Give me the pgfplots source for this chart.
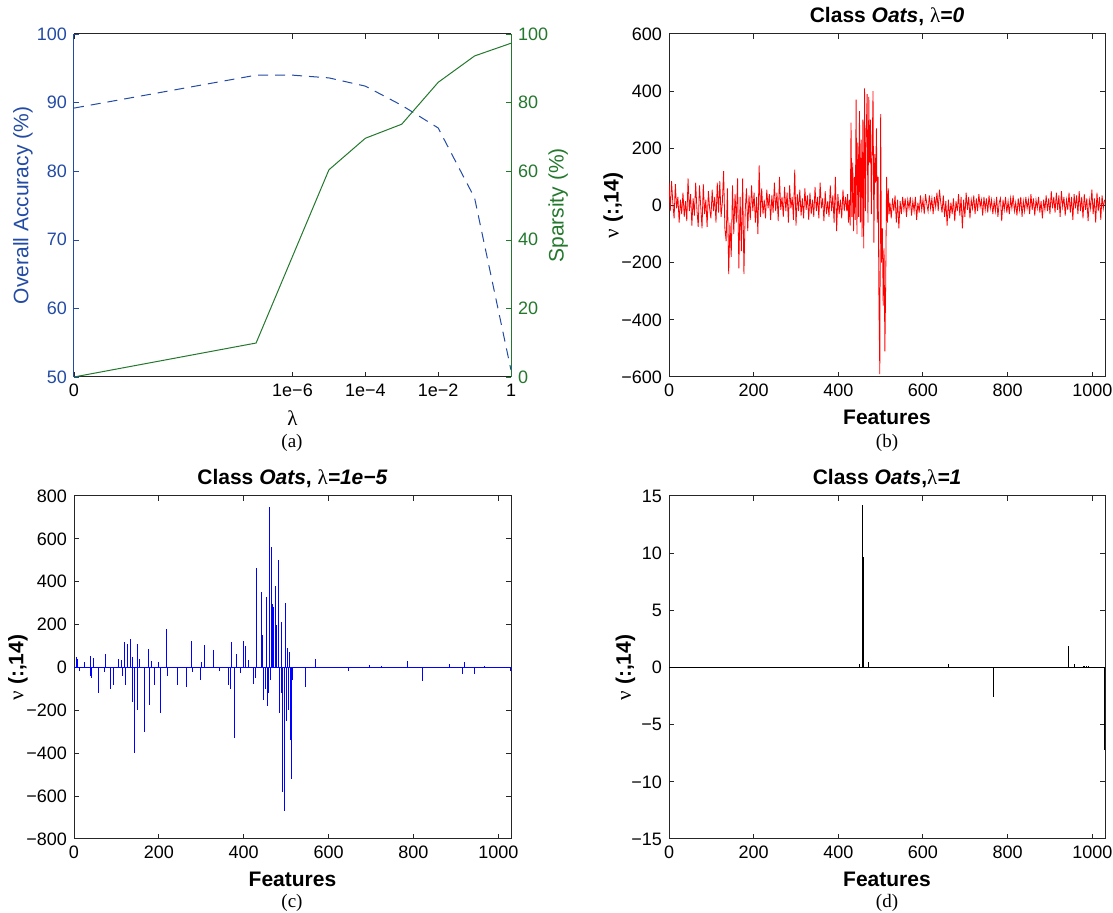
\documentclass[border=0pt]{standalone}
\usepackage{fontspec}
\setmainfont{Liberation Sans}
\newfontfamily\capfont{Liberation Serif}
\usepackage{pgfplots}
\pgfplotsset{compat=1.18}

\definecolor{accblue}{RGB}{35,75,165}
\definecolor{spgreen}{RGB}{35,120,45}

\pgfplotsset{
  matlab/.style={
    scale only axis, height=171.5pt,
    tick align=inside, major tick length=2.5pt,
    axis line style={line width=0.5pt, black!85},
    tick style={line width=0.5pt, black!85},
    tick label style={font=\fontsize{9}{10}\selectfont},
    label style={font=\bfseries\fontsize{10.5}{12}\selectfont},
    every axis title/.style={at={(0.5,1.05)}, anchor=center,
      font=\bfseries\fontsize{10.5}{12}\selectfont},
    every axis y label/.style={at={(axis description cs:-0.128,0.5)},
      rotate=90, anchor=center, font=\bfseries\fontsize{10.5}{12}\selectfont},
    xmin=0, xmax=1030, xtick={0,200,400,600,800,1000},
    xticklabels={0,200,400,600,800,1000},
    xlabel={Features},
    ylabel={{\mdseries\capfont ν} (:,14)},
  },
}

\begin{document}
\begin{tikzpicture}
\useasboundingbox (0,0) rectangle (556.5pt,456.5pt);

% (a) accuracy and sparsity against lambda
\begin{axis}[at={(37pt,268pt)}, anchor=south west,
    scale only axis, width=218.5pt, height=171.5pt,
    xmode=log, xmin=1e-12, xmax=1,
    xtick={1e-12,1e-6,1e-4,1e-2,1}, xticklabels={0,1e−6,1e−4,1e−2,1},
    minor xtick={},
    ymin=50, ymax=100, ytick={50,60,70,80,90,100},
    yticklabels={50,60,70,80,90,100},
    axis x line*=box, axis y line*=left,
    tick align=inside, major tick length=2.5pt,
    x axis line style={line width=0.5pt, black!85},
    y axis line style={line width=0.5pt, accblue},
    xtick style={black!85}, ytick style={accblue},
    tick label style={font=\fontsize{9}{10}\selectfont},
    yticklabel style={accblue},
    xlabel={\capfont λ}, ylabel={Overall Accuracy (\%)},
    label style={font=\fontsize{10.5}{12}\selectfont},
    every axis y label/.style={at={(axis description cs:-0.117,0.5)},
      rotate=90, anchor=center, accblue, font=\fontsize{10.5}{12}\selectfont}]
\addplot[accblue, line width=0.5pt, dash pattern=on 5pt off 3.5pt] coordinates {
  (1e-12,89.2) (1e-7,94.0) (1e-6,94.0) (1e-5,93.6) (1e-4,92.4)
  (1e-3,89.6) (1e-2,86.3) (1e-1,76.1) (1,51.0)
};
\end{axis}
\begin{axis}[at={(37pt,268pt)}, anchor=south west,
    scale only axis, width=218.5pt, height=171.5pt,
    xmode=log, xmin=1e-12, xmax=1,
    axis x line=none, axis y line*=right,
    ymin=0, ymax=100, ytick={0,20,40,60,80,100},
    yticklabels={0,20,40,60,80,100},
    tick align=inside, major tick length=2.5pt,
    y axis line style={line width=0.5pt, spgreen},
    ytick style={spgreen},
    yticklabel style={spgreen, font=\fontsize{9}{10}\selectfont},
    ylabel={Sparsity (\%)},
    every axis y label/.style={at={(axis description cs:1.108,0.5)},
      rotate=90, anchor=center, spgreen, font=\fontsize{10.5}{12}\selectfont}]
\addplot[spgreen, line width=0.5pt] coordinates {
  (1e-12,0) (1e-7,9.9) (1e-5,60.4) (1e-4,69.6) (1e-3,73.7)
  (1e-2,85.9) (1e-1,93.6) (1,97.3)
};
\end{axis}

% (b) lambda = 0
\begin{axis}[matlab, at={(334.5pt,268pt)}, anchor=south west, width=218pt,
    title={Class \textit{Oats}, {\mdseries\capfont λ}\textit{=0}},
    ymin=-600, ymax=600, ytick={-600,-400,-200,0,200,400,600},
    yticklabels={−600,−400,−200,0,200,400,600}]
\addplot[red, line width=0.4pt] coordinates {
(0,80)(3,-20)(6,85)(9,10)(12,-45)(15,75)(18,-10)(21,30)(24,-60)(27,20)(30,-30)(33,45)
(36,-40)(39,15)(42,-55)(45,95)(48,-20)(51,40)(54,-70)(57,25)(60,-35)(63,80)(66,-15)
(69,-75)(72,70)(75,-5)(78,-80)(81,75)(84,-30)(87,20)(90,-75)(93,50)(96,-10)(99,-45)
(102,55)(105,-20)(108,30)(111,-60)(114,80)(117,-25)(120,85)(123,-40)(126,10)(129,120)
(132,-80)(135,-125)(138,60)(141,-240)(144,-60)(147,-180)(150,70)(153,-100)(156,40)
(159,-60)(162,95)(165,-220)(168,30)(171,-160)(174,95)(177,-240)(180,-20)(183,60)(186,-90)
(189,35)(192,-50)(195,70)(198,-20)(201,45)(204,-60)(207,30)(210,-100)(213,140)(216,-40)
(219,60)(222,-30)(225,20)(228,-45)(231,55)(234,-10)(237,40)(240,-50)(243,35)(246,-25)
(249,80)(252,-20)(255,45)(258,-55)(261,100)(264,-15)(267,30)(270,-40)(273,65)(276,-20)
(279,45)(282,-60)(285,70)(288,-10)(291,30)(294,-50)(297,125)(300,-70)(303,40)(306,-20)
(309,55)(312,-35)(315,25)(318,-45)(321,60)(324,-15)(327,35)(330,-50)(333,45)(336,-30)
(339,20)(342,-40)(345,65)(348,-20)(351,30)(354,-45)(357,80)(360,-10)(363,25)(366,-55)
(369,50)(372,-30)(375,15)(378,-40)(381,70)(384,-20)(387,35)(390,-60)(393,100)(396,-90)
(399,40)(402,-30)(405,20)(408,-45)(411,55)(414,-20)(417,30)
(420,-20)(422,40)(424,-60)(426,20)(428,-70)(430,290)(432,-40)(434,150)(436,-90)(438,100)
(440,-50)(442,370)(444,-100)(446,220)(448,-40)(450,330)(452,-60)(454,230)(456,-110)
(458,300)(460,-150)(462,410)(464,-20)(466,260)(468,390)(470,-60)(472,380)(474,150)
(476,300)(478,-30)(480,200)(482,400)(484,-130)(486,180)(488,80)(490,270)(492,-60)
(494,100)(496,-350)(498,-590)(500,320)(502,-200)(504,-80)(506,-350)(508,-150)(510,-510)
(512,-260)(514,100)(516,-60)(518,60)(520,-30)(522,10)
(525,-45)(528,25)(531,-20)(534,35)(537,-60)(540,20)(543,-80)(546,15)(549,-30)(552,30)
(555,-15)(558,25)(561,-40)(564,20)(567,-10)(570,30)(573,-35)(576,15)(579,-20)(582,30)
(585,-50)(588,10)(591,-25)(594,35)(597,-15)(600,20)(603,-30)(606,40)(609,5)(612,-20)
(615,35)(618,-10)(621,25)(624,-30)(627,30)(630,-5)(633,45)(636,-20)(639,55)(642,10)
(645,-25)(648,35)(651,-40)(654,15)(657,-70)(660,20)(663,-45)(666,10)(669,-30)(672,25)
(675,-55)(678,15)(681,-20)(684,40)(687,-35)(690,30)(693,-80)(696,20)(699,-40)(702,45)
(705,-15)(708,30)(711,-45)(714,20)(717,-10)(720,35)(723,-30)(726,25)(729,-20)(732,40)
(735,-5)(738,20)(741,-35)(744,30)(747,-15)(750,25)(753,-25)(756,35)(759,-10)(762,20)
(765,-30)(768,15)(771,-20)(774,30)(777,-40)(780,10)(783,25)(786,-55)(789,20)(792,-15)
(795,30)(798,-25)(801,15)(804,-30)(807,25)(810,-10)(813,35)(816,-20)(819,10)(822,-35)
(825,25)(828,-15)(831,30)(834,-40)(837,15)(840,-20)(843,30)(846,-10)(849,20)(852,-30)
(855,40)(858,-15)(861,25)(864,-35)(867,20)(870,-10)(873,30)(876,-25)(879,15)(882,-45)
(885,20)(888,-15)(891,35)(894,-20)(897,25)(900,-30)(903,50)(906,-10)(909,30)(912,-25)
(915,45)(918,-15)(921,35)(924,-40)(927,50)(930,-5)(933,30)(936,-35)(939,20)(942,-15)
(945,45)(948,-25)(951,30)(954,-50)(957,40)(960,-10)(963,35)(966,-30)(969,50)(972,-20)
(975,30)(978,-45)(981,40)(984,-15)(987,25)(990,-55)(993,20)(996,-10)(999,55)(1002,-30)
(1005,25)(1008,-60)(1011,45)(1014,-20)(1017,30)(1020,-50)(1023,35)(1026,-10)(1029,20)
};
\end{axis}

% (c) lambda = 1e-5
\begin{axis}[matlab, at={(37pt,37pt)}, anchor=south west, width=218.5pt,
    title={Class \textit{Oats}, {\mdseries\capfont λ}\textit{=1e−5}},
    ymin=-800, ymax=800, ytick={-800,-600,-400,-200,0,200,400,600,800},
    yticklabels={−800,−600,−400,−200,0,200,400,600,800}]
\addplot[blue, line width=0.5pt] coordinates {(0,0) (1030,0)};
\addplot[blue, ycomb, line width=0.5pt] coordinates {
(5,50)(8,40)(13,-15)(25,25)(38,-40)(40,55)(42,-50)(47,45)(57,-120)(73,-20)(74,65)
(87,-100)(93,-80)(105,40)(113,35)(114,-40)(120,120)(122,-80)(125,110)(132,135)(137,50)
(138,-160)(143,-400)(149,-200)(150,110)(154,40)(165,-300)(176,85)(177,-175)(183,30)
(190,-80)(200,25)(204,-210)(218,180)(221,-40)(245,-80)(264,-90)(276,125)(280,-20)
(297,-60)(300,25)(308,105)(329,80)(342,-15)(363,-80)(370,-100)(371,120)(378,-330)
(382,65)(392,-25)(399,125)(405,100)(411,35)(422,-75)(427,-50)(431,465)(441,350)
(445,150)(447,-150)(452,-100)(454,330)(456,-180)(459,-120)(461,750)(463,-60)(466,560)
(468,295)(471,280)(474,380)(477,200)(481,500)(485,-210)(488,-120)(489,210)(492,-580)
(495,-670)(497,-560)(499,300)(500,-250)(503,90)(506,-200)(508,70)(510,-340)(513,-520)
(516,-60)(546,-90)(569,40)(646,-15)(696,10)(724,5)(785,30)(822,-65)(886,15)(916,-30)
(920,25)(945,-30)(968,8)(1029,-15)
};
\end{axis}

% (d) lambda = 1
\begin{axis}[matlab, at={(334.5pt,37pt)}, anchor=south west, width=218pt,
    title={Class \textit{Oats},{\mdseries\capfont λ}\textit{=1}},
    every axis y label/.style={at={(axis description cs:-0.10,0.5)},
      rotate=90, anchor=center, font=\bfseries\fontsize{10.5}{12}\selectfont},
    ymin=-15, ymax=15, ytick={-15,-10,-5,0,5,10,15},
    yticklabels={−15,−10,−5,0,5,10,15}]
\addplot[black, line width=0.5pt] coordinates {(0,0) (1030,0)};
\addplot[black, ycomb, line width=0.5pt] coordinates {
(450,0.3)(458,14.2)(460,9.7)(472,0.5)(661,0.3)(767,-2.6)(944,1.9)(958,0.3)
(978,0.15)(982,0.15)(986,0.15)(990,0.15)(1028,-7.2)
};
\end{axis}

% panel captions
\node[font=\capfont\fontsize{9.5}{11}\selectfont] at (146pt,235pt) {(a)};
\node[font=\capfont\fontsize{9.5}{11}\selectfont] at (443.5pt,235pt) {(b)};
\node[font=\capfont\fontsize{9.5}{11}\selectfont] at (146pt,5pt) {(c)};
\node[font=\capfont\fontsize{9.5}{11}\selectfont] at (443.5pt,5pt) {(d)};
\end{tikzpicture}
\end{document}
